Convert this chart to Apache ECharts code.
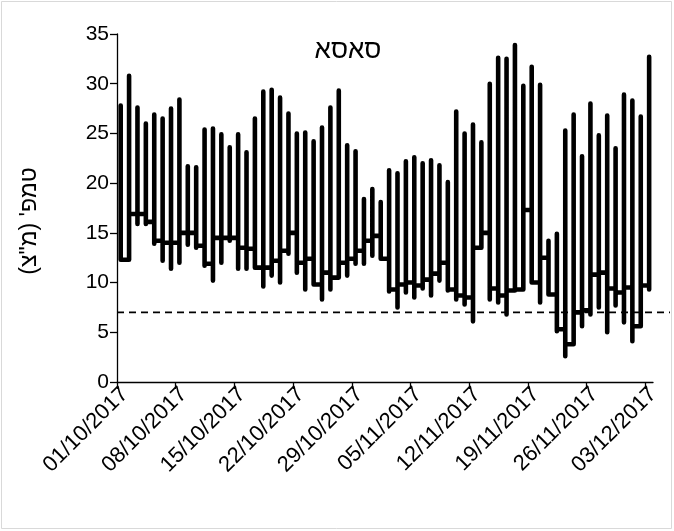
<!DOCTYPE html>
<html>
<head>
<meta charset="utf-8">
<script src="https://cdn.jsdelivr.net/npm/echarts@6/dist/echarts.min.js"></script>
<style>html,body{margin:0;padding:0;background:#fff}#c{width:674px;height:531px}</style>
</head>
<body>
<div id="c"></div>
<script>
// Daily peak values (°C), 01/10/2017 .. 03/12/2017
var dailyMax = [27.8,30.8,27.6,26.0,26.9,26.5,27.5,28.4,21.7,21.6,
 25.4,25.5,24.9,23.6,24.9,23.1,26.5,29.2,29.4,28.6,
 27.0,25.0,25.1,24.2,25.6,27.6,29.3,23.8,23.2,18.4,
 19.4,18.1,21.3,21.0,22.2,22.6,22.0,22.3,21.8,20.1,
 27.2,25.0,25.9,24.1,30.0,32.6,32.5,33.9,29.8,31.7,
 29.9,14.2,14.9,25.3,26.9,22.7,28.0,24.8,26.8,23.5,
 28.9,28.3,26.7,32.7];
// Daily low reached just before the peak
var dailyLow = [12.3,12.3,15.9,15.9,13.9,12.2,11.4,12.0,13.8,13.5,
 11.7,10.2,12.0,14.2,11.4,11.4,11.9,9.6,10.7,10.0,
 12.9,11.0,9.3,10.2,8.3,9.3,10.4,10.7,11.9,11.9,
 12.7,12.6,9.1,7.5,9.0,8.5,9.4,8.7,10.2,9.2,
 8.3,7.8,6.1,13.5,8.3,8.0,6.8,9.0,12.5,10.2,
 8.0,8.8,5.1,2.6,3.8,5.6,6.8,7.5,5.0,7.7,
 6.0,4.1,7.5,9.3];
// Level held after the peak until the next day
var dailyAfter = [12.3,16.9,16.9,16.1,14.2,14.0,14.0,15.0,15.0,13.7,
 11.9,14.5,14.5,14.5,13.5,13.4,11.5,11.5,12.2,13.2,
 15.0,12.0,12.4,9.8,11.0,10.5,12.0,12.4,13.2,14.2,
 14.7,12.4,9.3,9.8,10.0,9.7,10.3,10.9,12.0,9.3,
 8.7,8.5,13.5,15.0,9.4,8.7,9.2,9.3,17.3,10.0,
 12.5,8.8,5.3,3.8,7.0,7.2,10.8,11.0,9.4,9.0,
 9.5,5.6,9.7,16.4];
var peakTimeOfDay = 0.44; // fraction of day
var threshold = 7;
var tickLabels = ['01/10/2017','08/10/2017','15/10/2017','22/10/2017','29/10/2017',
 '05/11/2017','12/11/2017','19/11/2017','26/11/2017','03/12/2017'];
var titleText = 'סאסא';
var yName = '\u202Bטמפ\' (מ"צ)\u202C';

var lineData = [];
for (var d = 0; d < dailyMax.length; d++) {
  var t = d + peakTimeOfDay;
  lineData.push([t, dailyLow[d]]);
  lineData.push([t, dailyMax[d]]);
  lineData.push([t, dailyAfter[d]]);
}
var tickPos = tickLabels.map(function(_, i){ return i * 7; });
var font = 'Liberation Sans, Arial, sans-serif';

var chart = echarts.init(document.getElementById('c'), null, {renderer:'canvas'});
chart.setOption({
  animation: false,
  backgroundColor: '#fff',
  grid: [
    {left:117, right:21, top:34, bottom:149},
    {left:117, right:4, top:34, bottom:149}
  ],
  xAxis: [{
    type:'value', min:0, max:63.9, gridIndex:0,
    axisLine:{show:true, onZero:false, lineStyle:{color:'#000', width:1.3}},
    axisTick:{show:true, length:7, customValues:tickPos, lineStyle:{color:'#000', width:1.3}},
    axisLabel:{customValues:tickPos, rotate:45, margin:1, verticalAlign:'top', color:'#000', fontSize:22, fontFamily:font,
      formatter:function(v){ var i = Math.round(v/7); return tickLabels[i] || ''; }},
    splitLine:{show:false}
  },{
    type:'value', min:0, max:1, gridIndex:1, show:false
  }],
  yAxis: [{
    type:'value', min:0, max:35, interval:5, gridIndex:0,
    axisLine:{show:true, lineStyle:{color:'#000', width:1.3}},
    axisTick:{show:true, length:7, lineStyle:{color:'#000', width:1.3}},
    axisLabel:{margin:8, color:'#000', fontSize:21, fontFamily:font},
    splitLine:{show:false}
  },{
    type:'value', min:0, max:35, gridIndex:1, show:false
  }],
  series: [{
    type:'line', xAxisIndex:1, yAxisIndex:1, symbol:'none', silent:true,
    data:[[0,threshold],[1,threshold]],
    lineStyle:{color:'#000', width:1.8, type:[7,5]}
  },{
    type:'line', xAxisIndex:0, yAxisIndex:0, symbol:'none', step:'end', silent:true,
    data: lineData,
    lineStyle:{color:'#000', width:4.6, cap:'round', join:'round'}
  }],
  graphic: [
    {type:'rect', shape:{x:1.5, y:1.5, width:670, height:527}, style:{fill:null, stroke:'#d9d9d9', lineWidth:1}, silent:true},
    {type:'text', x:348, y:51, style:{text:titleText, fontSize:26, fontFamily:font, fill:'#000', align:'center', verticalAlign:'middle'}},
    {type:'text', x:30, y:221, rotation:Math.PI/2, style:{text:yName, fontSize:23, fontFamily:font, fill:'#000', align:'center', verticalAlign:'middle'}}
  ]
});
</script>
</body>
</html>
